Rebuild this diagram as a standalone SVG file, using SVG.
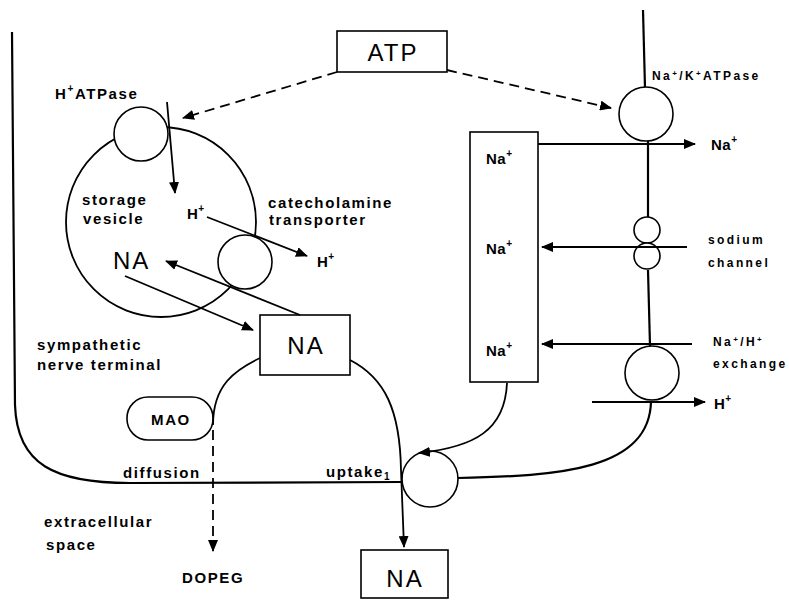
<svg xmlns="http://www.w3.org/2000/svg" width="789" height="608" viewBox="0 0 789 608">
<defs>
<marker id="ah" markerUnits="userSpaceOnUse" markerWidth="12" markerHeight="10" refX="11" refY="5" orient="auto">
<path d="M0,0 L12,5 L0,10 z" fill="#000"/>
</marker>
<style>
.t{font-family:"Liberation Sans",Arial,sans-serif;font-weight:bold;font-size:15px;letter-spacing:1.6px;fill:#000}
.ion{font-family:"Liberation Sans",Arial,sans-serif;font-weight:bold;font-size:15px;letter-spacing:0.5px;fill:#000}
.big{font-family:"Liberation Sans",Arial,sans-serif;font-size:24px;letter-spacing:2px;fill:#000}
.sm{font-family:"Liberation Sans",Arial,sans-serif;font-weight:bold;font-size:12px;letter-spacing:2.4px;fill:#000}
.mem{fill:none;stroke:#000;stroke-width:2.2}
.ln{fill:none;stroke:#000;stroke-width:1.8}
.arr{fill:none;stroke:#000;stroke-width:1.8;marker-end:url(#ah)}
.dash{fill:none;stroke:#000;stroke-width:1.8;stroke-dasharray:10 6;marker-end:url(#ah)}
.circ{fill:#fff;stroke:#000;stroke-width:1.6}
.box{fill:#fff;stroke:#000;stroke-width:1.6}
</style>
</defs>
<rect width="789" height="608" fill="#fff"/>

<g id="membrane">
<path class="mem" d="M12,32 L15,405 C17,465 55,483 130,483 L402,482"/>
<path class="mem" d="M457,478 C560,476 650,470 651,401"/>
<path class="mem" d="M643,10 L645,88"/>
<path class="mem" d="M648,141 L648,217"/>
<path class="mem" d="M648,270 L650,346"/>
</g>

<g id="vesicle"><circle class="ln" cx="161" cy="222" r="95" stroke-width="1.6"/></g>
<g id="h-atpase"><circle class="circ" cx="141" cy="134" r="27"/></g>
<g id="cat-transporter"><circle class="circ" cx="245" cy="262" r="27"/></g>
<g id="uptake1"><circle class="circ" cx="430" cy="479" r="28"/></g>
<g id="nak-atpase"><circle class="circ" cx="646" cy="114" r="27"/></g>
<g id="sodium-channel">
<circle class="circ" cx="647" cy="230" r="13"/>
<circle class="circ" cx="647" cy="256" r="13"/>
</g>
<g id="na-h-exchanger"><circle class="circ" cx="652" cy="373" r="27"/></g>

<g id="atp">
<rect class="box" x="337" y="31" width="110" height="41"/>
<text class="big" x="393" y="61" text-anchor="middle" font-size="25">ATP</text>
</g>

<g id="na-box">
<rect class="box" x="470" y="132" width="68" height="250"/>
<text class="ion" x="486" y="164">Na<tspan font-size="10" dy="-7">+</tspan></text>
<text class="ion" x="486" y="254">Na<tspan font-size="10" dy="-7">+</tspan></text>
<text class="ion" x="486" y="356">Na<tspan font-size="10" dy="-7">+</tspan></text>
</g>

<g id="na-central">
<rect class="box" x="260" y="315" width="90" height="60"/>
<text class="big" x="306" y="354" text-anchor="middle">NA</text>
</g>

<g id="na-extracellular">
<rect class="box" x="361" y="550" width="87" height="48"/>
<text class="big" x="405" y="587" text-anchor="middle">NA</text>
</g>

<g id="mao">
<rect class="box" x="127" y="397" width="86" height="43" rx="21" ry="21"/>
<text class="t" x="171" y="425" text-anchor="middle" letter-spacing="2.5">MAO</text>
</g>

<g id="connectors">
<path class="dash" d="M337,72 L183,118"/>
<path class="dash" d="M447,70 L611,108"/>
<path class="arr" d="M167,102 L175,193"/>
<path class="arr" d="M207,217 L307,256"/>
<path class="arr" d="M300,315 L166,261"/>
<path class="arr" d="M125,276 L253,330"/>
<path class="ln" d="M260,358 C235,370 213,385 213,425"/>
<path class="dash" d="M213,430 L213,551"/>
<path class="arr" d="M350,360 C385,378 400,410 401,470 L404,547"/>
<path class="arr" d="M538,144 L695,144"/>
<path class="arr" d="M687,247 L542,247"/>
<path class="arr" d="M692,344 L542,344"/>
<path class="arr" d="M592,402 L705,402"/>
<path class="arr" d="M507,383 C505,430 475,447 419,453"/>
</g>

<g id="labels">
<text class="t" x="55" y="99">H<tspan font-size="10" dy="-7">+</tspan><tspan dy="7">ATPase</tspan></text>
<text class="t" x="82" y="205">storage</text>
<text class="t" x="83" y="224">vesicle</text>
<text class="ion" x="187" y="219">H<tspan font-size="10" dy="-7">+</tspan></text>
<text class="t" x="268" y="208" font-weight="normal" letter-spacing="1.2">catecholamine</text>
<text class="t" x="269" y="225" font-weight="normal" letter-spacing="1.2">transporter</text>
<text class="ion" x="317" y="267">H<tspan font-size="10" dy="-7">+</tspan></text>
<text class="big" x="113" y="269">NA</text>
<text class="t" x="37" y="350">sympathetic</text>
<text class="t" x="37" y="370">nerve terminal</text>
<text class="t" x="123" y="478">diffusion</text>
<text class="t" x="326" y="477">uptake<tspan font-size="10" dy="3">1</tspan></text>
<text class="t" x="44" y="527">extracellular</text>
<text class="t" x="46" y="550">space</text>
<text class="t" x="182" y="583" letter-spacing="3">DOPEG</text>
<text class="sm" x="652" y="80">Na<tspan font-size="8" dy="-4">+</tspan><tspan dy="4">/K</tspan><tspan font-size="8" dy="-4">+</tspan><tspan dy="4">ATPase</tspan></text>
<text class="ion" x="711" y="150">Na<tspan font-size="10" dy="-7">+</tspan></text>
<text class="sm" x="708" y="244">sodium</text>
<text class="sm" x="708" y="267">channel</text>
<text class="sm" x="713" y="346">Na<tspan font-size="8" dy="-4">+</tspan><tspan dy="4">/H</tspan><tspan font-size="8" dy="-4">+</tspan></text>
<text class="sm" x="713" y="368">exchange</text>
<text class="ion" x="714" y="409">H<tspan font-size="10" dy="-7">+</tspan></text>
</g>
</svg>
